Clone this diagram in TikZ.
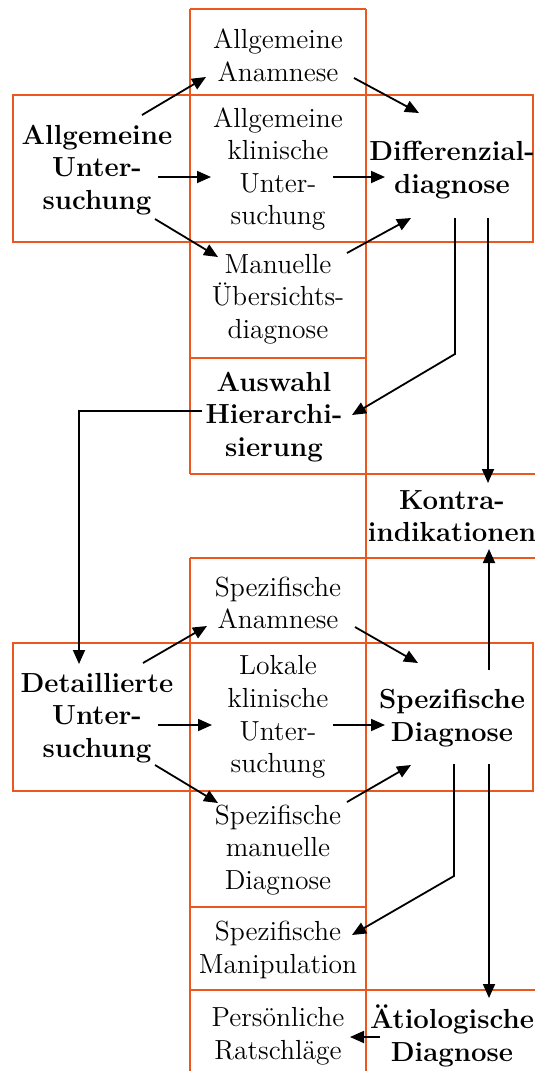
\documentclass[tikz,border=0pt]{standalone}
\usetikzlibrary{arrows.meta}
\definecolor{frame}{RGB}{234,88,32}
\tikzset{
  grid/.style={draw=frame,line width=1.2pt},
  arr/.style={draw=black,line width=0.9pt,-{Triangle[length=7pt,width=6pt]}},
  txt/.style={align=center,font=\fontsize{13.8}{16.3}\selectfont,inner sep=0pt},
  btxt/.style={txt,font=\fontsize{13.8}{16.3}\selectfont\bfseries},
}
\begin{document}
\begin{tikzpicture}[x=0.5pt,y=-0.5pt]
\useasboundingbox (0,0) rectangle (535,1071);
% ---- orange frames ----
\draw[grid] (190,9) -- (366,9);
\draw[grid] (190,9) -- (190,474);
\draw[grid] (366,9) -- (366,1071);
\draw[grid] (13,95) rectangle (533,242);
\draw[grid] (190,358) -- (366,358);
\draw[grid] (190,474) -- (535,474);
\draw[grid] (190,558) -- (535,558);
\draw[grid] (190,558) -- (190,1071);
\draw[grid] (13,643) rectangle (533,791);
\draw[grid] (190,907) -- (366,907);
\draw[grid] (190,990) -- (535,990);
% ---- texts ----
\node[txt]  (aa)  at (278,55)  {Allgemeine\\Anamnese};
\node[btxt] (au)  at (97,170)  {Allgemeine\\Unter-\\suchung};
\node[txt]  (ak)  at (278,169) {Allgemeine\\klinische\\Unter-\\suchung};
\node[btxt] (dd)  at (452,170) {Differenzial-\\diagnose};
\node[txt]  (mu)  at (278,299) {Manuelle\\Übersichts-\\diagnose};
\node[btxt] (ah)  at (274,417) {Auswahl\\Hierarchi-\\sierung};
\node[btxt] (ki)  at (452,516) {Kontra-\\indikationen};
\node[txt]  (sa)  at (278,603) {Spezifische\\Anamnese};
\node[btxt] (du)  at (97,718)  {Detaillierte\\Unter-\\suchung};
\node[txt]  (lk)  at (278,717) {Lokale\\klinische\\Unter-\\suchung};
\node[btxt] (sd)  at (452,718) {Spezifische\\Diagnose};
\node[txt]  (sm)  at (278,850) {Spezifische\\manuelle\\Diagnose};
\node[txt]  (sp)  at (278,950) {Spezifische\\Manipulation};
\node[txt]  (pr)  at (278,1036) {Persönliche\\Ratschläge};
\node[btxt] (ae)  at (452,1036) {Ätiologische\\Diagnose};
% ---- connector end points ----
\coordinate (c1a) at (142,115); \coordinate (c1b) at (206,77);
\coordinate (c2a) at (158,177); \coordinate (c2b) at (211,177);
\coordinate (c3a) at (155,219); \coordinate (c3b) at (218,257);
\coordinate (c4a) at (354,78);  \coordinate (c4b) at (419,113);
\coordinate (c5a) at (333,177); \coordinate (c5b) at (385,177);
\coordinate (c6a) at (347,253); \coordinate (c6b) at (411,218);
\coordinate (c7a) at (455,218); \coordinate (c7m) at (455,354); \coordinate (c7b) at (352,415);
\coordinate (c8a) at (488,218); \coordinate (c8b) at (488,483);
\coordinate (c9a) at (202,411); \coordinate (c9m) at (79,411); \coordinate (c9b) at (79,664);
\coordinate (d1a) at (143,663); \coordinate (d1b) at (207,626);
\coordinate (d2a) at (158,725); \coordinate (d2b) at (212,725);
\coordinate (d3a) at (155,765); \coordinate (d3b) at (218,803);
\coordinate (d4a) at (355,627); \coordinate (d4b) at (418,663);
\coordinate (d5a) at (333,725); \coordinate (d5b) at (385,725);
\coordinate (d6a) at (347,802); \coordinate (d6b) at (411,765);
\coordinate (d7a) at (489,670); \coordinate (d7b) at (489,549);
\coordinate (d8a) at (454,764); \coordinate (d8m) at (454,876); \coordinate (d8b) at (352,935);
\coordinate (d9a) at (489,764); \coordinate (d9b) at (489,998);
\coordinate (e1a) at (380,1037); \coordinate (e1b) at (350,1037);
% ---- connectors ----
\draw[arr] (c1a) -- (c1b);
\draw[arr] (c2a) -- (c2b);
\draw[arr] (c3a) -- (c3b);
\draw[arr] (c4a) -- (c4b);
\draw[arr] (c5a) -- (c5b);
\draw[arr] (c6a) -- (c6b);
\draw[arr] (c7a) -- (c7m) -- (c7b);
\draw[arr] (c8a) -- (c8b);
\draw[arr] (c9a) -- (c9m) -- (c9b);
\draw[arr] (d1a) -- (d1b);
\draw[arr] (d2a) -- (d2b);
\draw[arr] (d3a) -- (d3b);
\draw[arr] (d4a) -- (d4b);
\draw[arr] (d5a) -- (d5b);
\draw[arr] (d6a) -- (d6b);
\draw[arr] (d7a) -- (d7b);
\draw[arr] (d8a) -- (d8m) -- (d8b);
\draw[arr] (d9a) -- (d9b);
\draw[arr] (e1a) -- (e1b);
\end{tikzpicture}
\end{document}
